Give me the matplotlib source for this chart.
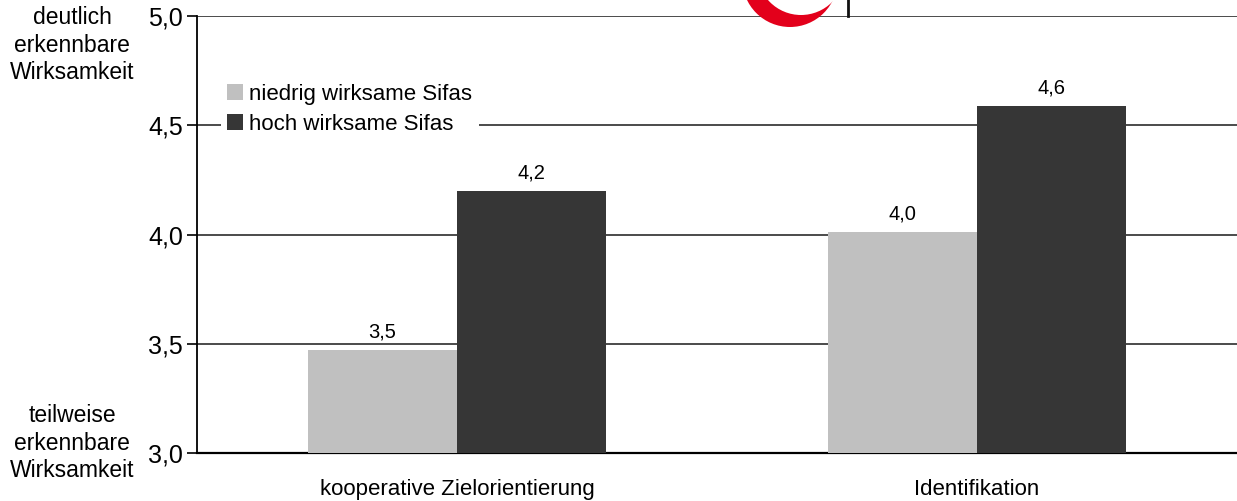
import matplotlib

matplotlib.use("Agg")

import matplotlib.pyplot as plt  # noqa: E402
import numpy as np  # noqa: E402
from matplotlib.patches import Circle  # noqa: E402

plt.rcParams["font.family"] = ["Liberation Sans", "DejaVu Sans"]

# data
categories = ["kooperative Zielorientierung", "Identifikation"]
series_names = ["niedrig wirksame Sifas", "hoch wirksame Sifas"]
niedrig = [3.47, 4.01]
hoch = [4.2, 4.59]
y_ticks = [3.0, 3.5, 4.0, 4.5, 5.0]
y_ticklabels = ["3,0", "3,5", "4,0", "4,5", "5,0"]
top_note = "deutlich\nerkennbare\nWirksamkeit"
bottom_note = "teilweise\nerkennbare\nWirksamkeit"

W, H = 1237, 501
fig = plt.figure(figsize=(W / 100, H / 100), dpi=100)
ax = fig.add_axes([197 / W, 1 - 453 / H, 1 - 197 / W, (453 - 16) / H])

x = np.arange(len(categories))
bw = 0.287
colors = ["#c0c0c0", "#363636"]
for off, vals, name, col in ((-bw / 2, niedrig, series_names[0], colors[0]),
                             (bw / 2, hoch, series_names[1], colors[1])):
    bars = ax.bar(x + off, vals, width=bw, color=col, label=name, zorder=3)
    for b, v in zip(bars, vals):
        ax.annotate(f"{v:.1f}".replace(".", ","),
                    (b.get_x() + b.get_width() / 2, v),
                    xytext=(0, 6), textcoords="offset points",
                    ha="center", va="bottom", fontsize=14.5)

ax.set_xlim(-0.5, 1.5)
ax.set_ylim(3.0, 5.0)
ax.set_yticks(y_ticks)
ax.set_yticklabels(y_ticklabels, fontsize=18)
ax.set_xticks(x)
ax.set_xticklabels(categories, fontsize=16)
ax.tick_params(axis="x", length=0, pad=19)
ax.tick_params(axis="y", length=7, width=1.2, pad=3, direction="out")
ax.yaxis.grid(True, color="#1a1a1a", lw=1.1, zorder=0)
ax.set_axisbelow(True)
for s in ("top", "right"):
    ax.spines[s].set_visible(False)
ax.spines["left"].set_linewidth(1.3)
ax.spines["bottom"].set_linewidth(1.6)

leg = ax.legend(loc="upper left", bbox_to_anchor=(0.012, 0.885), fontsize=16,
                frameon=True, facecolor="white", edgecolor="none", framealpha=1,
                handlelength=0.7, handleheight=0.7, handletextpad=0.3,
                labelspacing=0.4, borderpad=0.3, fancybox=False)
leg.set_zorder(5)

fig.text(72 / W, 1 - 45 / H, top_note, ha="center", va="center", fontsize=16.5,
         linespacing=1.25)
fig.text(72 / W, 1 - 443 / H, bottom_note, ha="center", va="center", fontsize=16.5,
         linespacing=1.25)

# partial red logo peeking in at the top
lax = fig.add_axes([700 / W, 1 - 40 / H, 200 / W, 40 / H], zorder=10)
lax.set_xlim(700, 900)
lax.set_ylim(40, 0)
lax.axis("off")
lax.add_patch(Circle((790, -20.7), 47.7, color="#e3001b", lw=0))
lax.add_patch(Circle((801, -28.8), 43.8, color="white", lw=0))
lax.plot([848, 848], [0, 16], color="#111111", lw=2)

fig.savefig("out.png", dpi=100)
